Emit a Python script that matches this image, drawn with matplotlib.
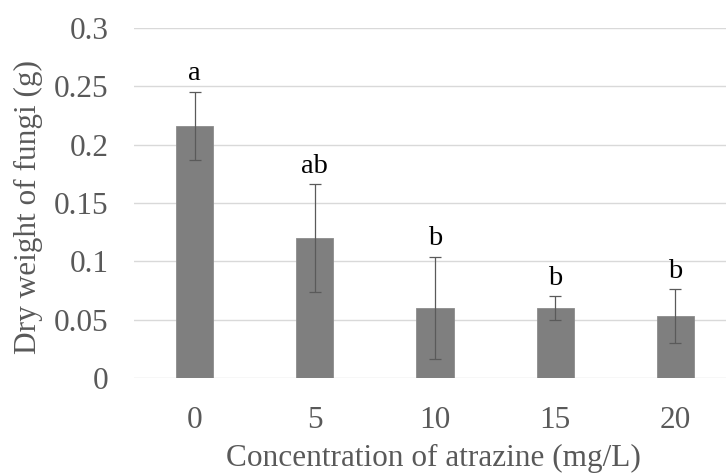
import matplotlib
matplotlib.use("Agg")
import matplotlib.pyplot as plt
import numpy as np

categories = ["0", "5", "10", "15", "20"]
means = [0.216, 0.120, 0.060, 0.060, 0.053]
errors = [0.029, 0.046, 0.0435, 0.010, 0.023]
letters = ["a", "ab", "b", "b", "b"]
yticks = [0, 0.05, 0.1, 0.15, 0.2, 0.25, 0.3]
ytick_labels = ["0", "0.05", "0.1", "0.15", "0.2", "0.25", "0.3"]

plt.rcParams['font.family'] = ['Liberation Serif', 'DejaVu Serif']

W, H = 726, 473
fig = plt.figure(figsize=(W / 100, H / 100), dpi=100)
ax_left, ax_right, ax_top, ax_bottom = 134.4, 735.6, 28, 378
ax = fig.add_axes([ax_left / W, (H - ax_bottom) / H,
                   (ax_right - ax_left) / W, (ax_bottom - ax_top) / H])

x = np.arange(len(categories))
ax.bar(x, means, width=0.308, color='#7f7f7f', edgecolor='#8c8c8c',
       linewidth=0.6, zorder=3)
ax.errorbar(x, means, yerr=errors, fmt='none', ecolor='#5a5a5a',
            elinewidth=0.9, capsize=4, capthick=0.9, zorder=4)

for xi, m, e, lab in zip(x, means, errors, letters):
    ax.annotate(lab, (xi, m + e), xytext=(0, 8.5), textcoords='offset points',
                ha='center', va='baseline', fontsize=20.5, color='black')

ax.set_xlim(-0.5, len(categories) - 0.5)
ax.set_ylim(0, 0.3)
ax.set_yticks(yticks)
ax.set_yticklabels(ytick_labels)
ax.set_xticks(x)
ax.set_xticklabels(categories)
ax.grid(axis='y', color='#d9d9d9', linewidth=1.0, zorder=0)
ax.set_axisbelow(True)
for s in ax.spines.values():
    s.set_visible(False)

ax.tick_params(axis='y', length=0, pad=18.8, labelsize=22.5, labelcolor='#595959')
ax.tick_params(axis='x', length=0, pad=20, labelsize=22.5, labelcolor='#595959')

ax.set_xlabel("Concentration of atrazine (mg/L)", fontsize=22.5, color='#595959',
              va='baseline')
ax.xaxis.set_label_coords(0.498, -0.2514)
ax.set_ylabel("Dry weight of fungi (g)", fontsize=22.5, color='#595959',
              va='center')
ax.yaxis.set_label_coords(-0.177, 0.489)

fig.savefig("out.png", dpi=100)
